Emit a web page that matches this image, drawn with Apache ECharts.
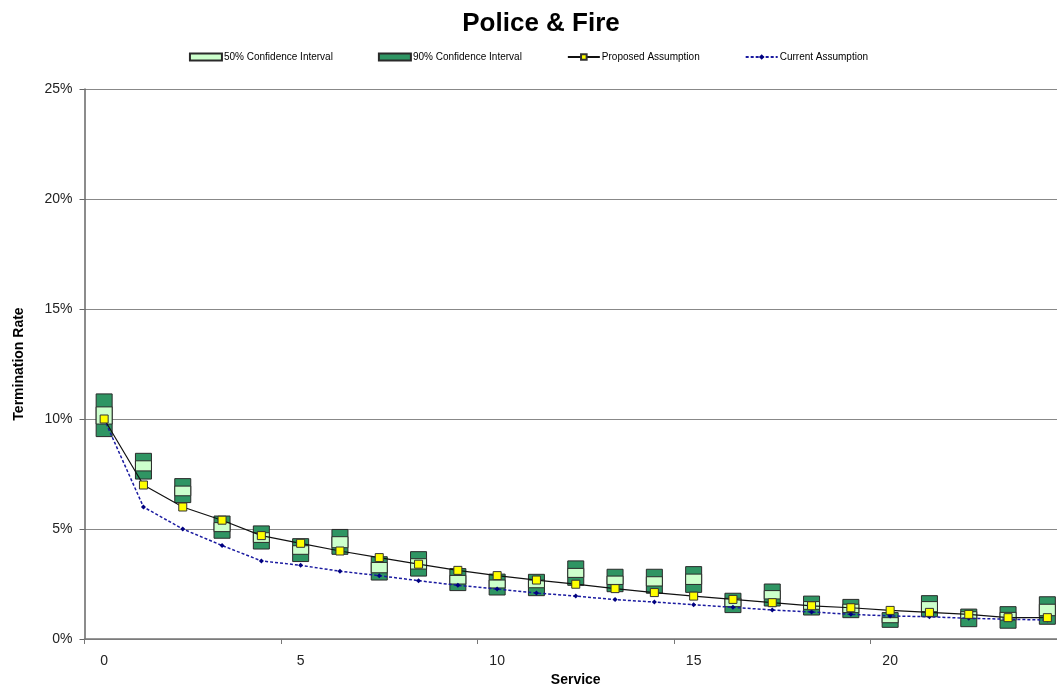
<!DOCTYPE html>
<html>
<head>
<meta charset="utf-8">
<script src="https://cdn.jsdelivr.net/npm/echarts@6/dist/echarts.min.js"></script>
<style>
html,body{margin:0;padding:0;background:#fff;}
#chart{width:1057px;height:686px;}
</style>
</head>
<body>
<div id="chart"></div>
<script>
const categories = ['0','1','2','3','4','5','6','7','8','9','10','11','12','13','14','15','16','17','18','19','20','21','22','23','24'];
const lo90 = [9.2, 7.27, 6.2, 4.58, 4.09, 3.52, 3.85, 2.68, 2.86, 2.2, 2.0, 1.97, 2.44, 2.15, 2.08, 2.12, 1.2, 1.5, 1.09, 0.97, 0.53, 1.01, 0.56, 0.49, 0.67];
const lo50 = [9.77, 7.64, 6.51, 4.88, 4.39, 3.85, 4.15, 3.01, 3.18, 2.5, 2.32, 2.33, 2.8, 2.48, 2.41, 2.48, 1.47, 1.82, 1.35, 1.2, 0.74, 1.24, 0.94, 0.86, 1.06];
const hi50 = [10.55, 8.1, 6.95, 5.29, 4.83, 4.24, 4.65, 3.48, 3.65, 2.89, 2.68, 2.68, 3.21, 2.86, 2.83, 2.95, 1.85, 2.2, 1.7, 1.58, 0.97, 1.7, 1.24, 1.21, 1.58];
const hi90 = [11.14, 8.44, 7.29, 5.59, 5.14, 4.56, 4.98, 3.74, 3.97, 3.2, 2.95, 2.94, 3.55, 3.17, 3.17, 3.29, 2.08, 2.5, 1.95, 1.8, 1.2, 1.97, 1.36, 1.47, 1.92];
const proposed = [10.0, 7.0, 6.0, 5.4, 4.7, 4.35, 4.0, 3.7, 3.4, 3.12, 2.88, 2.68, 2.49, 2.29, 2.11, 1.95, 1.8, 1.65, 1.51, 1.42, 1.3, 1.21, 1.12, 0.97, 0.97];
const current = [10.0, 6.0, 5.0, 4.25, 3.55, 3.35, 3.08, 2.88, 2.65, 2.44, 2.27, 2.09, 1.95, 1.79, 1.68, 1.56, 1.44, 1.32, 1.23, 1.12, 1.05, 1.01, 0.94, 0.9, 0.86];
const yTicks = [0, 5, 10, 15, 20, 25];

const FONT = '"Liberation Sans", Arial, sans-serif';

function boxRender(params, api) {
  const x = api.value(0);
  const lo = api.value(1);
  const hi = api.value(2);
  const pTop = api.coord([x, hi]);
  const pBot = api.coord([x, lo]);
  const w = 16;
  return {
    type: 'rect',
    shape: { x: pTop[0] - w / 2, y: pTop[1], width: w, height: pBot[1] - pTop[1] },
    style: api.style({ stroke: '#2a2a2a', lineWidth: 1 })
  };
}

const chart = echarts.init(document.getElementById('chart'));
chart.setOption({
  backgroundColor: '#ffffff',
  animation: false,
  textStyle: { fontFamily: FONT },
  title: {
    text: 'Police & Fire',
    left: 536, textAlign: 'center', top: 6,
    textStyle: { fontFamily: FONT, fontSize: 26, fontWeight: 'bold', color: '#000' }
  },
  legend: {
    top: 47, left: 'center',
    itemGap: 45, itemWidth: 32, itemHeight: 7,
    textStyle: { fontFamily: FONT, fontSize: 10, color: '#000', padding: [0, 0, 0, -3] },
    data: [
      { name: '50% Confidence Interval', icon: 'rect' },
      { name: '90% Confidence Interval', icon: 'rect' },
      { name: 'Proposed Assumption' },
      { name: 'Current Assumption' }
    ]
  },
  grid: { left: 84.5, top: 89, width: 982.5, height: 550, containLabel: false, outerBoundsMode: 'none' },
  xAxis: {
    type: 'category',
    data: categories,
    boundaryGap: true,
    name: 'Service',
    nameLocation: 'middle',
    nameGap: 34,
    nameTextStyle: { fontFamily: FONT, fontSize: 14, fontWeight: 'bold', color: '#000' },
    axisLine: { lineStyle: { color: '#777', width: 1.5 } },
    axisTick: { show: true, interval: 4, length: 5, lineStyle: { color: '#777' } },
    axisLabel: { interval: 4, margin: 15, fontFamily: FONT, fontSize: 14, color: '#222' },
    splitLine: { show: false }
  },
  yAxis: {
    type: 'value',
    min: yTicks[0], max: yTicks[yTicks.length - 1], interval: 5,
    name: 'Termination Rate',
    nameLocation: 'middle',
    nameGap: 58,
    nameRotate: 90,
    nameTextStyle: { fontFamily: FONT, fontSize: 14, fontWeight: 'bold', color: '#000' },
    axisLine: { show: true, lineStyle: { color: '#666', width: 1.5 } },
    axisTick: { show: true, length: 5, lineStyle: { color: '#666' } },
    axisLabel: { formatter: '{value}%', margin: 12, fontFamily: FONT, fontSize: 14, color: '#222' },
    splitLine: { show: true, lineStyle: { color: '#888', width: 1.2 } }
  },
  series: [
    {
      name: '90% Confidence Interval',
      type: 'custom',
      renderItem: boxRender,
      itemStyle: { color: '#2f9563', borderColor: '#2a2a2a', borderWidth: 1 },
      encode: { x: 0, y: [1, 2] },
      data: categories.map((c, i) => [i, lo90[i], hi90[i]]),
      z: 2
    },
    {
      name: '50% Confidence Interval',
      type: 'custom',
      renderItem: boxRender,
      itemStyle: { color: '#ccffcc', borderColor: '#2a2a2a', borderWidth: 1 },
      encode: { x: 0, y: [1, 2] },
      data: categories.map((c, i) => [i, lo50[i], hi50[i]]),
      z: 3
    },
    {
      name: 'Proposed Assumption',
      type: 'line',
      data: proposed,
      symbol: 'rect',
      symbolSize: 8,
      showAllSymbol: true,
      lineStyle: { color: '#111', width: 1.2 },
      itemStyle: { color: '#ffff00', borderColor: '#333', borderWidth: 1 },
      z: 5
    },
    {
      name: 'Current Assumption',
      type: 'line',
      data: current,
      symbol: 'diamond',
      symbolSize: 5,
      showAllSymbol: true,
      lineStyle: { color: '#1a1aa0', width: 1.5, type: [3, 2] },
      itemStyle: { color: '#000080', borderWidth: 0 },
      z: 4
    }
  ]
});
</script>
</body>
</html>
